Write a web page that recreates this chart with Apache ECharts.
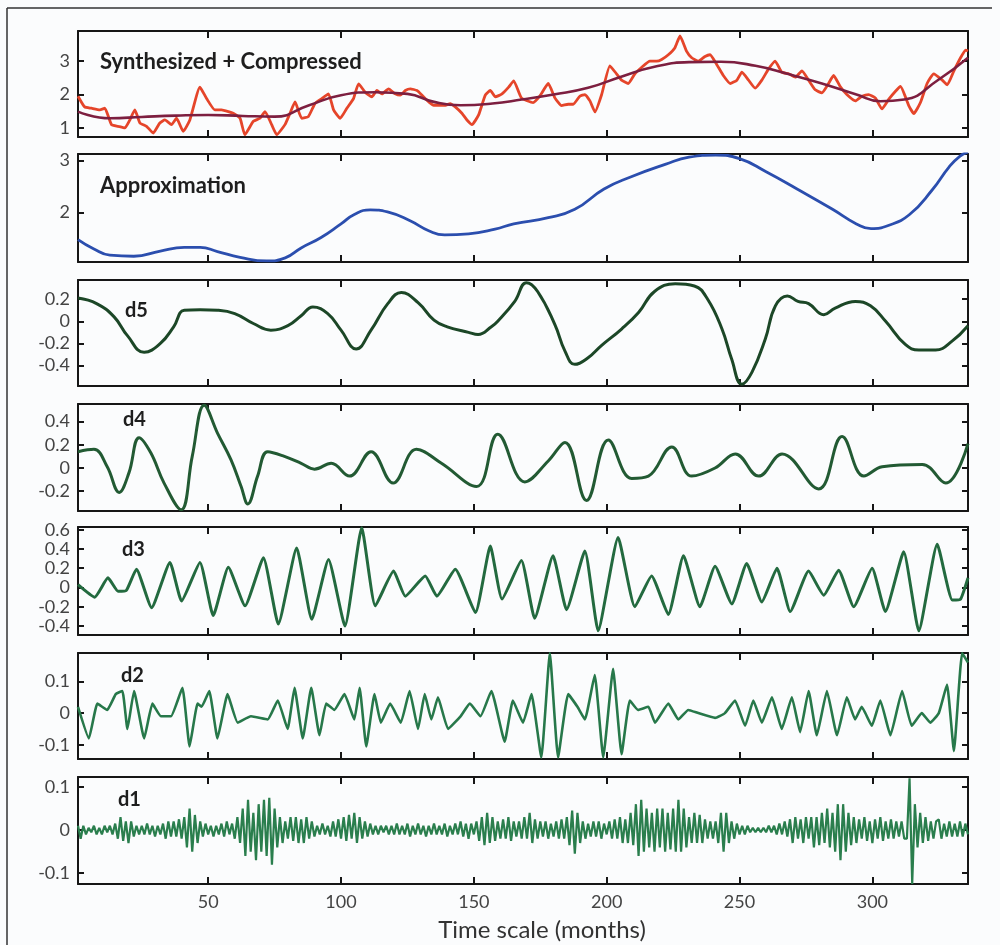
<!DOCTYPE html>
<html><head><meta charset="utf-8">
<script src="https://cdn.jsdelivr.net/npm/echarts@6/dist/echarts.min.js"></script>
<style>html,body{margin:0;padding:0;background:#fbfcfd}#c{width:1000px;height:945px}</style>
</head><body><div id="c"></div>
<script>
// ---------------- DATA ----------------
const xTicks = [50, 100, 150, 200, 250, 300];

// Synthesized + Compressed (red, jagged)
const synthX = [1,3.5,6,9.2,11.1,13.6,16.1,18.6,20.5,22.4,24.3,26.8,29.3,31.8,33.7,36.2,38.1,40.6,43.1,46.9,49.4,52.5,55,57.6,59.4,62,63.8,67,69.5,71.4,73.9,75.8,78.9,80.8,82.7,85.2,87.7,90.2,92.8,95.3,97.2,99.7,102.2,104.7,106.6,109.1,111.6,113.5,115.4,117.9,120.4,122.3,124.2,126.1,128.6,130.5,133,134.9,136.8,139.3,141.1,143,145.5,147.4,149.3,151.8,154.3,156.2,158.1,160.6,163.1,165,167.9,172.3,174.8,178,180.5,183,185.5,187.4,189.9,191.8,193.7,195.6,198.1,201.2,203.7,205.6,208.1,210.6,213.1,216.3,218.8,220.7,223.2,225.7,227.6,230.1,232,234.5,237,238.9,241.4,243.9,246.5,249,250.9,253.4,255.9,258.4,260.9,263.4,265.9,268.5,271,273.5,276,278.5,281,283.5,285.4,287.9,290.4,293.6,296.1,298.6,301.1,303.6,306.2,308.7,310.6,313.7,315.6,318.1,320.6,323.1,326.3,328.2,330.7,333.2,335.1,336];
const synthY = [1.95,1.63,1.59,1.54,1.59,1.10,1.05,1.00,1.24,1.54,1.15,1.05,0.85,1.15,1.24,1.10,1.29,0.90,1.24,2.22,1.88,1.54,1.54,1.49,1.44,1.29,0.80,1.20,1.29,1.49,1.10,0.80,1.10,1.44,1.78,1.29,1.34,1.73,1.88,2.02,1.54,1.29,1.59,1.88,2.32,2.07,1.93,2.12,2.02,2.17,2.02,1.98,2.12,2.17,2.12,1.98,1.78,1.68,1.68,1.68,1.73,1.63,1.44,1.24,1.10,1.39,1.98,2.12,1.93,2.02,2.22,2.41,1.90,1.76,1.95,2.33,1.90,1.67,1.71,1.71,1.95,2.00,1.81,1.48,2.00,2.86,2.62,2.43,2.33,2.62,2.81,3.00,3.00,3.05,3.19,3.40,3.75,3.29,3.10,3.00,3.14,3.19,2.90,2.57,2.33,2.43,2.67,2.43,2.19,2.43,2.76,3.00,2.67,2.62,2.52,2.71,2.43,2.14,2.05,2.33,2.57,2.24,2.00,1.81,1.95,2.00,1.90,1.57,1.86,2.10,2.24,1.67,1.43,1.76,2.33,2.62,2.43,2.29,2.71,3.10,3.33,3.30];

// Smooth trend (dark red)
const trendX = [1,13,25,38,50,63,75,88,100,113,125,135,145,157,168,180,193,206,218,231,243,256,268,281,294,303,312,325,336];
const trendY = [1.49,1.29,1.33,1.37,1.39,1.36,1.34,1.68,1.98,2.07,2.02,1.78,1.68,1.73,1.85,2.00,2.20,2.55,2.83,2.97,2.98,2.86,2.62,2.33,2.00,1.80,1.85,2.45,3.10];

// Approximation (blue)
const approxX = [1,7,13,22,32,41,47,53.5,62,72,79,85,92.5,100,105,111,117.5,126,133,139,148,158,165,178,188,199,209,222,231,241,250,260,272,285,294,299.5,306,314,322.5,329,333,336];
const approxY = [1.48,1.30,1.18,1.16,1.26,1.33,1.33,1.25,1.14,1.07,1.13,1.32,1.52,1.78,1.96,2.05,2.01,1.84,1.65,1.57,1.59,1.68,1.78,1.90,2.06,2.45,2.68,2.92,3.06,3.10,3.03,2.78,2.44,2.06,1.78,1.69,1.75,1.96,2.43,2.88,3.08,3.16];

// d5
const d5X = [1,8,14.6,19.6,25.9,32,37,41,47,53.5,60,67,73.6,80,85,89.4,95,100,105.7,111.3,117.6,122.7,129,135,140,148,151.6,156.6,159,165.4,169.8,174,180.5,184.3,188,193,198,205.6,212,218,225.8,233,238,243.4,247,250.9,254.7,259.7,263.5,268,272,276,281.7,286,293.6,299.3,305,312.4,317.5,323.8,330,336];
const d5Y = [0.21,0.16,0.04,-0.13,-0.28,-0.20,-0.05,0.10,0.105,0.10,0.07,-0.02,-0.08,-0.04,0.05,0.13,0.07,-0.08,-0.25,-0.08,0.16,0.26,0.17,0.01,-0.05,-0.10,-0.12,-0.05,0.00,0.18,0.35,0.27,-0.03,-0.27,-0.39,-0.33,-0.22,-0.07,0.08,0.27,0.34,0.32,0.20,-0.07,-0.34,-0.57,-0.46,-0.16,0.14,0.23,0.18,0.16,0.06,0.12,0.18,0.14,0.00,-0.21,-0.26,-0.26,-0.18,-0.04];

// d4
const d4X = [1,7,12,16.5,20.2,24,28.4,33.4,39.8,44,48.5,53.5,58.6,62.4,64.9,68.6,72.4,78.7,85,90,96.3,103.2,111.3,119.6,128.4,137.8,151,159,169.2,178,184.3,192.4,200.6,209.4,215.7,224.5,232,240.8,248.4,257.2,266,279.8,288.6,296.8,303.7,318.8,327.6,336];
const d4Y = [0.14,0.16,0.01,-0.21,-0.04,0.26,0.13,-0.13,-0.36,0.10,0.54,0.30,0.07,-0.16,-0.31,-0.07,0.14,0.10,0.04,-0.01,0.04,-0.07,0.14,-0.13,0.16,0.04,-0.16,0.29,-0.12,0.06,0.22,-0.28,0.24,-0.09,-0.07,0.18,-0.07,0.00,0.12,-0.07,0.12,-0.18,0.27,-0.07,0.01,0.03,-0.13,0.21];

// d3
const d3X = [1,7.3,12.3,16.1,19.2,23,28.7,35.6,40,46.9,51.9,57.6,63.9,70.8,76.4,83.3,89,95.3,101.5,107.8,112.9,119.8,124.2,131.7,136.1,143,150.6,156.2,160.6,167.9,172.9,179.8,184.9,191.8,196.8,204.3,210.6,216.9,223.2,228.9,235.1,240.8,247.1,252.7,258.4,264.1,269.1,276,281.7,287.3,293,299.9,304.9,311.8,317.5,324.4,330.1,333.2,336];
const d3Y = [0.03,-0.10,0.10,-0.04,-0.03,0.19,-0.21,0.26,-0.14,0.26,-0.29,0.21,-0.19,0.31,-0.38,0.41,-0.33,0.29,-0.40,0.62,-0.19,0.17,-0.09,0.12,-0.09,0.19,-0.26,0.43,-0.12,0.28,-0.32,0.33,-0.23,0.38,-0.45,0.52,-0.20,0.12,-0.28,0.33,-0.20,0.22,-0.17,0.25,-0.15,0.20,-0.25,0.17,-0.08,0.18,-0.20,0.20,-0.25,0.37,-0.45,0.45,-0.13,-0.12,0.10];

// d2
const d2X = [1,5.1,8.3,12,15.2,17.7,19.6,22.1,25.9,29,32.2,36,40.3,43,46,47.5,50.4,53.5,57.3,61.1,66.1,72.4,76.2,79.9,82.5,85.6,88.8,91.9,94.4,97.5,101.3,105,107,109.5,112.6,115,118.5,122.5,125.8,129,131.5,134,136.5,140.3,145,148.5,152.5,156.6,161.6,164.7,168.5,171.7,175.4,178.6,181.7,185.5,189,191.8,195.5,198.7,202.4,205.6,208.7,211.8,215.7,218.2,223.2,227,230.7,234.5,240.8,244.5,248.3,252.1,255.2,258.4,262.2,265.9,269.7,272.8,276,279.1,282.9,286.7,290.4,293.5,296,299.8,303,306.8,311.2,314.8,318.6,321.8,325,328.1,330.7,333.8,336];
const d2Y = [0.02,-0.08,0.03,0.01,0.06,0.07,-0.05,0.07,-0.08,0.03,-0.01,-0.01,0.08,-0.105,0.03,0.02,0.07,-0.08,0.06,-0.03,-0.01,-0.02,0.04,-0.05,0.08,-0.08,0.08,-0.07,0.03,0.01,0.06,-0.02,0.08,-0.105,0.06,-0.03,0.03,-0.03,0.07,-0.05,0.06,-0.02,0.05,-0.05,-0.01,0.03,-0.01,0.07,-0.09,0.04,-0.03,0.06,-0.14,0.19,-0.14,0.06,0.02,-0.02,0.12,-0.14,0.14,-0.13,0.04,0.01,0.02,-0.03,0.03,-0.02,0.01,0.00,-0.015,0.00,0.04,-0.04,0.04,-0.03,0.05,-0.05,0.05,-0.06,0.07,-0.07,0.07,-0.07,0.05,-0.02,0.02,-0.04,0.04,-0.07,0.07,-0.04,0.00,-0.03,0.00,0.09,-0.12,0.19,0.16];

// d1 (one value per month, 1..336)
const d1Y = [
 0.01,-0.02,0.01,-0.01,0.005,-0.005,0.01,-0.01,0.005,-0.01,0.01,-0.005,
 0.01,-0.01,0.015,-0.02,0.03,-0.025,0.02,-0.03,0.02,-0.015,0.01,-0.01,
 0.01,-0.01,0.015,-0.01,0.01,-0.015,0.01,-0.01,0.015,-0.02,0.02,-0.015,
 0.02,-0.015,0.025,-0.02,0.03,-0.04,0.05,-0.05,0.035,-0.03,0.02,-0.015,
 0.015,-0.01,0.01,-0.015,0.01,-0.01,0.015,-0.015,0.02,-0.01,0.015,-0.02,
 0.03,-0.03,0.05,-0.06,0.07,-0.05,0.04,-0.07,0.06,-0.05,0.07,-0.06,
 0.075,-0.08,0.05,-0.04,0.03,-0.03,0.02,-0.02,0.03,-0.025,0.03,-0.03,
 0.025,-0.03,0.03,-0.02,0.02,-0.015,0.01,-0.01,0.015,-0.01,0.01,-0.015,
 0.02,-0.015,0.025,-0.02,0.03,-0.025,0.035,-0.02,0.04,-0.03,0.03,-0.02,
 0.02,-0.015,0.015,-0.01,0.01,-0.01,0.01,-0.005,0.01,-0.01,0.01,-0.01,
 0.015,-0.01,0.01,-0.01,0.015,-0.015,0.01,-0.01,0.015,-0.01,0.01,-0.015,
 0.01,-0.01,0.015,-0.01,0.01,-0.01,0.015,-0.015,0.01,-0.01,0.015,-0.01,
 0.02,-0.015,0.015,-0.02,0.015,-0.01,0.02,-0.025,0.03,-0.035,0.04,-0.03,
 0.03,-0.025,0.02,-0.02,0.025,-0.02,0.03,-0.025,0.02,-0.015,0.02,-0.02,
 0.03,-0.02,0.04,-0.03,0.025,-0.02,0.02,-0.015,0.02,-0.02,0.015,-0.015,
 0.02,-0.02,0.025,-0.02,0.03,-0.035,0.045,-0.055,0.04,-0.03,0.02,-0.02,
 0.015,-0.015,0.02,-0.015,0.02,-0.02,0.015,-0.01,0.02,-0.02,0.025,-0.02,
 0.03,-0.03,0.025,-0.03,0.04,-0.035,0.06,-0.06,0.07,-0.05,0.05,-0.04,
 0.04,-0.05,0.05,-0.04,0.05,-0.05,0.04,-0.045,0.05,-0.05,0.07,-0.05,
 0.05,-0.04,0.03,-0.03,0.04,-0.03,0.035,-0.03,0.025,-0.02,0.02,-0.02,
 0.02,-0.03,0.04,-0.05,0.04,-0.03,0.02,-0.02,0.015,-0.01,0.01,-0.01,
 0.01,-0.005,0.005,-0.005,0.005,-0.005,0.005,-0.005,0.01,-0.005,0.01,-0.01,
 0.015,-0.01,0.02,-0.015,0.025,-0.03,0.03,-0.02,0.025,-0.03,0.03,-0.02,
 0.03,-0.04,0.03,-0.035,0.04,-0.03,0.05,-0.04,0.04,-0.05,0.06,-0.07,
 0.06,-0.05,0.04,-0.035,0.03,-0.03,0.025,-0.02,0.03,-0.025,0.02,-0.03,
 0.025,-0.02,0.03,-0.025,0.02,-0.02,0.025,-0.02,0.02,-0.015,0.02,-0.02,
 -0.02,0.12,-0.125,0.06,-0.04,0.04,-0.03,0.03,-0.025,0.02,-0.02,0.02,
 0.025,-0.02,0.015,-0.015,0.02,-0.015,0.015,-0.015,0.02,-0.015,0.015,-0.01
];

const yTickVals = [[1,2,3],[2,3],[-0.4,-0.2,0,0.2],[-0.2,0,0.2,0.4],[-0.4,-0.2,0,0.2,0.4,0.6],[-0.1,0,0.1],[-0.1,0,0.1]];
const yRanges = [[0.73,3.9],[1.05,3.12],[-0.586,0.374],[-0.37,0.55],[-0.493,0.628],[-0.145,0.19],[-0.125,0.123]];
const panelNames = ['Synthesized + Compressed','Approximation','d5','d4','d3','d2','d1'];

// ---------------- LAYOUT ----------------
const tops = [31,154,280,404,527,653,777];
const heights = [106,108,106,107,108,106,107];
const gridLeft = 78, gridRight = 32;
const labelPos = [[100,62],[100,186],[125,311],[123,420],[122,550],[121,676],[118,800]];
const labelFont = ['bold 22px Lato','bold 22px Lato','bold 20px Lato','bold 20px Lato','bold 20px Lato','bold 20px Lato','bold 20px Lato'];

const pair = (xs, ys) => xs.map((x, i) => [x, ys[i]]);
const d1Data = d1Y.map((v, i) => [i + 1, v]);

const frameColor = '#161616';
const grids = [], xAxes = [], yAxes = [];
for (let i = 0; i < 7; i++) {
  grids.push({left: gridLeft, right: gridRight, top: tops[i], height: heights[i], containLabel: false});
  const common = {gridIndex: i, type: 'value', min: 1, max: 336, splitLine: {show: false},
    axisLine: {show: true, onZero: false, lineStyle: {color: frameColor, width: 2}},
    axisTick: {show: true, inside: true, length: 7, customValues: xTicks, lineStyle: {color: frameColor, width: 2}}};
  xAxes.push(Object.assign({}, common, {position: 'bottom',
    axisLabel: {show: i === 6, customValues: xTicks, color: '#444', fontSize: 18, fontFamily: 'Lato', margin: 9}}));
  xAxes.push(Object.assign({}, common, {position: 'top', axisLabel: {show: false}}));
  const yc = {gridIndex: i, type: 'value', min: yRanges[i][0], max: yRanges[i][1], splitLine: {show: false},
    axisLine: {show: true, onZero: false, lineStyle: {color: frameColor, width: 2}},
    axisTick: {show: true, inside: true, length: 6, customValues: yTickVals[i], lineStyle: {color: frameColor, width: 2}}};
  yAxes.push(Object.assign({}, yc, {position: 'left',
    axisLabel: {show: true, customValues: yTickVals[i], color: '#444', fontSize: 18, fontFamily: 'Lato', margin: 8}}));
  yAxes.push(Object.assign({}, yc, {position: 'right', axisLabel: {show: false}}));
}

const mk = (idx, data, color, width, smooth) => ({
  type: 'line', xAxisIndex: idx * 2, yAxisIndex: idx * 2, data: data, showSymbol: false,
  smooth: smooth, clip: true, lineStyle: {color: color, width: width}, silent: true
});

const series = [
  mk(0, pair(synthX, synthY), '#e5452a', 2.8, 0.15),
  mk(0, pair(trendX, trendY), '#7d1f40', 2.6, 0.5),
  mk(1, pair(approxX, approxY), '#2b4eae', 2.8, 0.5),
  mk(2, pair(d5X, d5Y), '#1c4727', 3, 0.45),
  mk(3, pair(d4X, d4Y), '#225a33', 3, 0.4),
  mk(4, pair(d3X, d3Y), '#236a3f', 3, 0.15),
  mk(5, pair(d2X, d2Y), '#27784a', 2.6, 0.12),
  mk(6, d1Data, '#2a7e4d', 2.2, false)
];

const graphics = [
  {type: 'line', shape: {x1: 7, y1: 8, x2: 992, y2: 8}, style: {stroke: '#333', lineWidth: 1.5}},
  {type: 'line', shape: {x1: 7, y1: 8, x2: 7, y2: 945}, style: {stroke: '#333', lineWidth: 1.5}},
  {type: 'text', x: 542, y: 930, style: {text: 'Time scale (months)', font: '24px Lato', fill: '#333', align: 'center', verticalAlign: 'middle'}}
];
panelNames.forEach((n, i) => graphics.push({type: 'text', x: labelPos[i][0], y: labelPos[i][1], z: 10,
  style: {text: n, font: labelFont[i], fill: '#1e1e1e', align: 'left', verticalAlign: 'middle'}}));

const chart = echarts.init(document.getElementById('c'), null, {renderer: 'canvas'});
chart.setOption({
  animation: false,
  backgroundColor: '#fbfcfd',
  grid: grids, xAxis: xAxes, yAxis: yAxes, series: series, graphic: graphics
});
</script></body></html>
